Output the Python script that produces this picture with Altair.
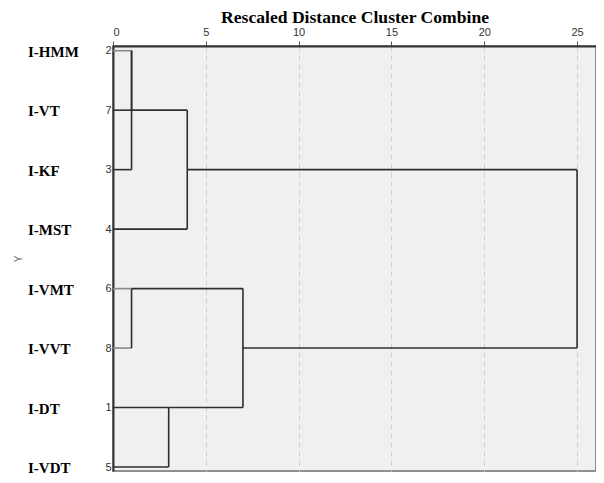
import altair as alt
import pandas as pd

# ---- data ----
leaf_names = ["I-HMM", "I-VT", "I-KF", "I-MST", "I-VMT", "I-VVT", "I-DT", "I-VDT"]
case_ids = [2, 7, 3, 4, 6, 8, 1, 5]
# agglomeration schedule (rescaled distance 0-25)
merge_a = [2, 6, 2, 1, 2, 1, 1]
merge_b = [7, 8, 3, 5, 4, 6, 2]
merge_h = [1, 1, 1, 3, 4, 7, 25]
faint_cases = [2, 6, 8]
x_ticks = [0, 5, 10, 15, 20, 25]

# ---- build dendrogram segments from the schedule ----
row_of = {c: i for i, c in enumerate(case_ids)}
parent = {c: c for c in case_ids}


def find(c):
    while parent[c] != c:
        c = parent[c]
    return c


state = {c: (row_of[c], 0) for c in case_ids}
segs = []
for a, b, h in zip(merge_a, merge_b, merge_h):
    ra, rb = find(a), find(b)
    ya, ha = state[ra]
    yb, hb = state[rb]
    for yy, hh, r in [(ya, ha, ra), (yb, hb, rb)]:
        if h > hh:
            kind = "faint" if (hh == 0 and r in faint_cases) else "main"
            segs.append({"x": hh, "x2": h, "y": yy, "y2": yy, "kind": kind})
    segs.append({"x": h, "x2": h, "y": ya, "y2": yb, "kind": "main"})
    parent[rb] = ra
    state[ra] = ((ya + yb) // 2, h)

seg_df = pd.DataFrame(segs)
label_df = pd.DataFrame({"row": list(range(len(leaf_names))), "name": leaf_names})

case_arr = "[" + ",".join("'%d'" % c for c in case_ids) + "]"

x_scale = alt.Scale(domain=[0, 26.02], nice=False, zero=False)
y_scale = alt.Scale(domain=[-0.079, 7.067], nice=False, zero=False, reverse=True)

x_axis = alt.Axis(
    orient="top", values=x_ticks, title="Rescaled Distance Cluster Combine",
    titleFont="Liberation Serif", titleFontSize=17.6, titleFontWeight="bold",
    titleColor="#000000", titleBaseline="alphabetic", titleY=-23.7,
    labelFont="Liberation Sans", labelFontSize=11, labelColor="#333333", labelPadding=3.5,
    tickSize=5, tickColor="#555555", domainColor="#333333", domainWidth=2,
    grid=True, gridDash=[5, 4], gridColor="#cfcfcf", gridWidth=1,
)
y_axis = alt.Axis(
    values=list(range(len(case_ids))), labelExpr=case_arr + "[datum.value]",
    labelFont="Liberation Sans", labelFontSize=11, labelColor="#333333",
    labelPadding=2, ticks=False, grid=False,
    domainColor="#333333", domainWidth=2,
    title="Y", titleFont="Liberation Sans", titleFontSize=10, titleFontWeight="normal",
    titleColor="#666666", titleX=-90,
)

rules = alt.Chart(seg_df).mark_rule(strokeWidth=1.6).encode(
    x=alt.X("x:Q", scale=x_scale, axis=x_axis),
    x2="x2:Q",
    y=alt.Y("y:Q", scale=y_scale, axis=y_axis),
    y2="y2:Q",
    color=alt.Color("kind:N", scale=alt.Scale(domain=["main", "faint"], range=["#2e2e2e", "#8a8a8a"]), legend=None),
)

labels = alt.Chart(label_df).mark_text(
    align="left", baseline="middle", font="Liberation Serif", fontWeight="bold",
    fontSize=15, color="#000000", dy=1,
).encode(
    x=alt.value(-85),
    y=alt.Y("row:Q", scale=y_scale),
    text="name:N",
)

chart = alt.layer(rules, labels).properties(
    width=483, height=425,
    autosize=alt.AutoSizeParams(type="none"),
    padding={"left": 105, "top": 38, "right": 0, "bottom": 4},
    background="#ffffff",
).configure_view(
    fill="#f0f0f0", stroke="#8f8f8f", strokeWidth=2,
)

chart.save("out.html", embed_options={"renderer": "svg", "actions": False})
